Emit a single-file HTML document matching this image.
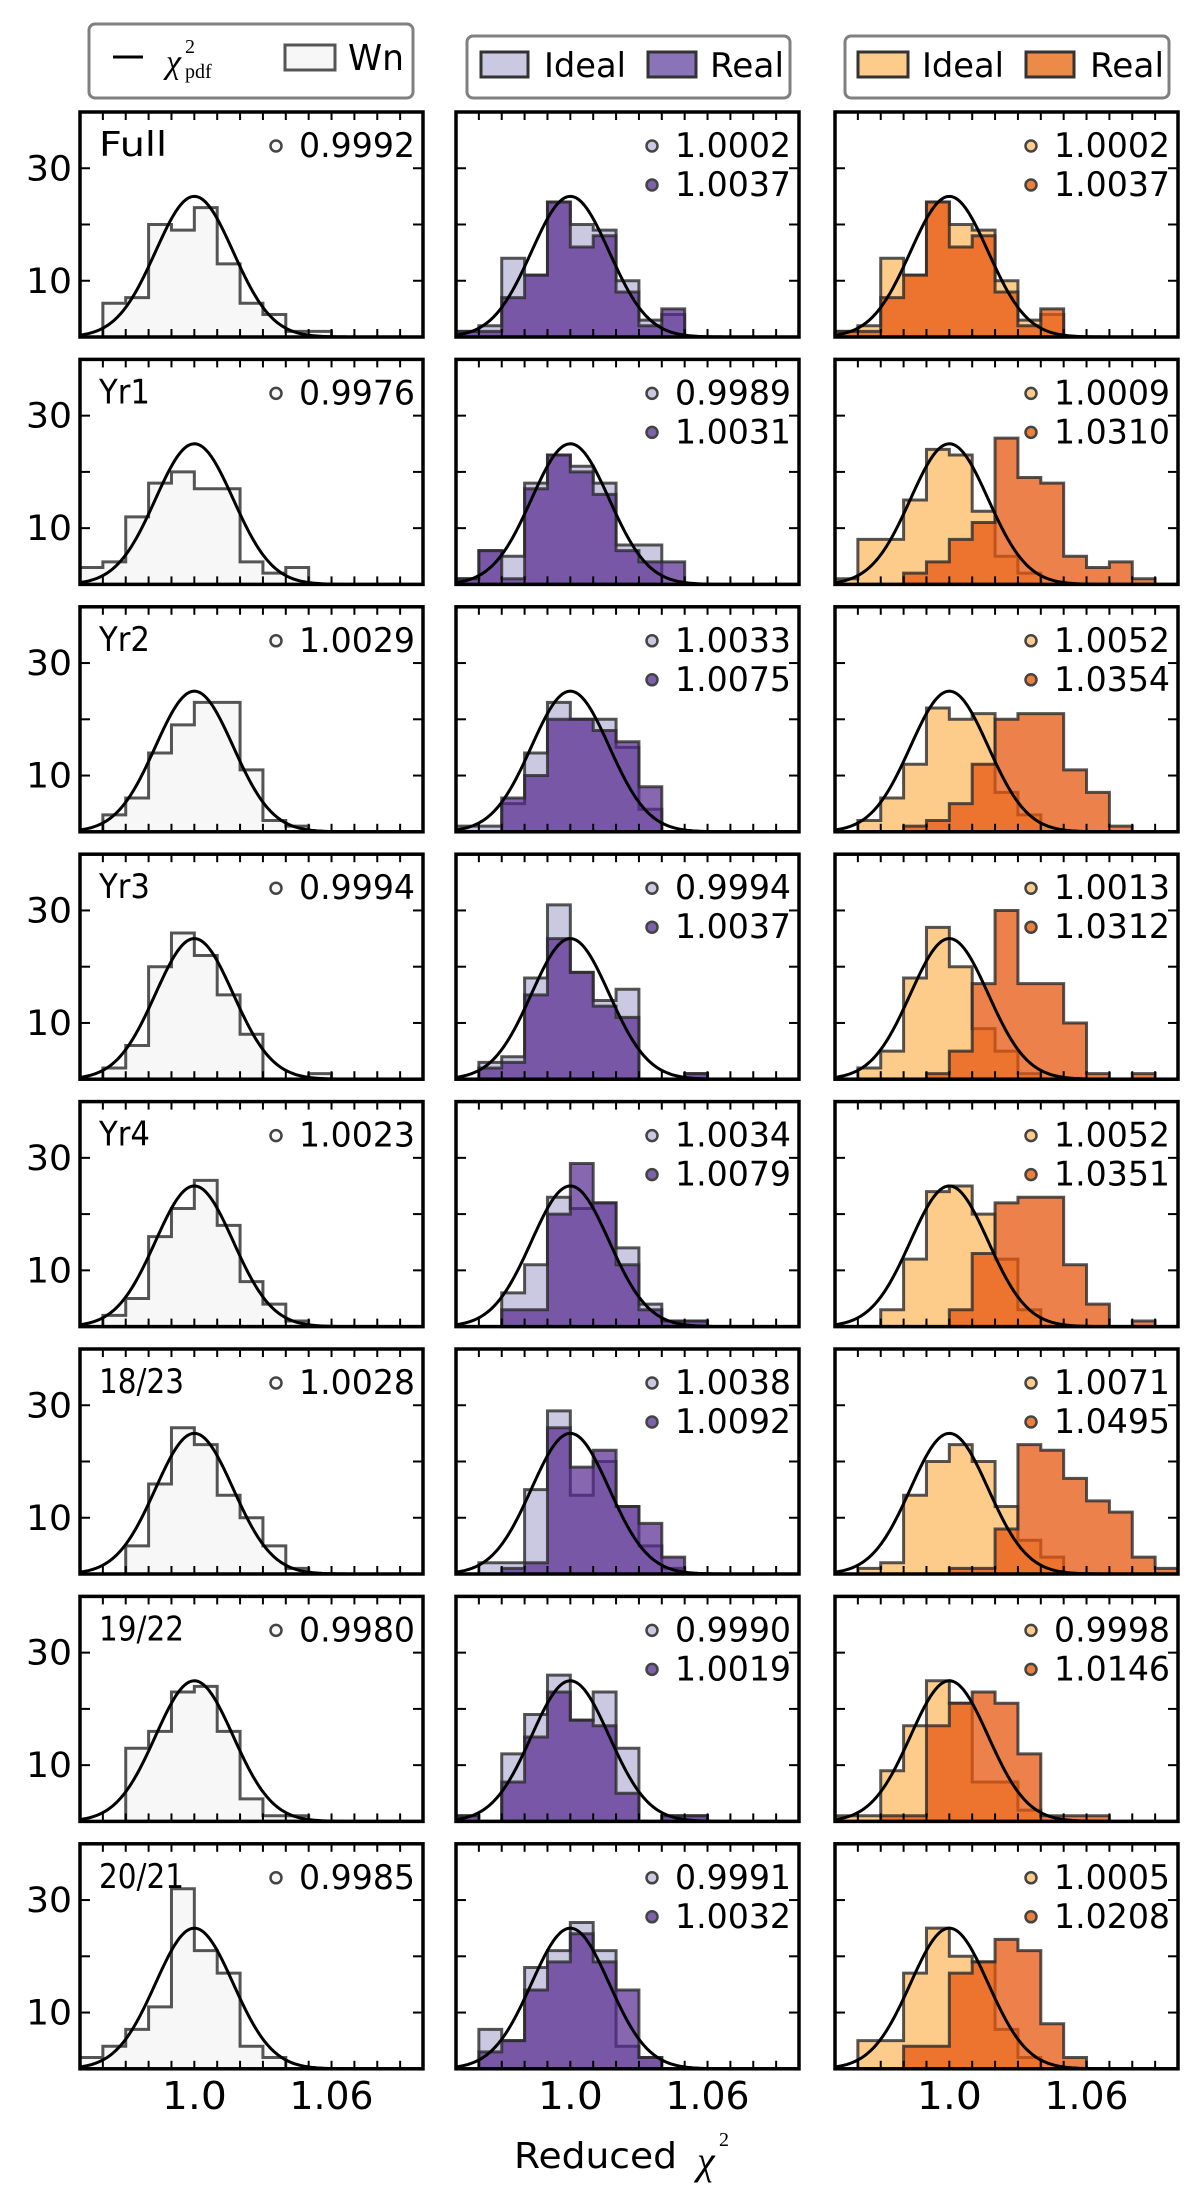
<!DOCTYPE html>
<html><head><meta charset="utf-8"><style>
html,body{margin:0;padding:0;background:#fff;}
svg{display:block;}
text{font-family:"DejaVu Sans","Liberation Sans",sans-serif;fill:#000;}
</style></head><body>
<svg id="fig" width="1200" height="2204" viewBox="0 0 1200 2204" xmlns="http://www.w3.org/2000/svg">
<g>
<rect x="89" y="24" width="324" height="74" rx="6" fill="#fff" stroke="#808080" stroke-width="3"/>
<line x1="113" y1="57" x2="143" y2="57" stroke="#000" stroke-width="3"/>
<text x="166" y="73" style="font-family:'Liberation Serif',serif;font-style:italic;font-size:34px">χ</text>
<text x="185" y="53" style="font-family:'Liberation Serif',serif;font-size:20px">2</text>
<text x="185" y="78" style="font-family:'Liberation Serif',serif;font-size:20px">pdf</text>
<rect x="285" y="45" width="50" height="25" fill="#f7f7f7" stroke="#555" stroke-width="3"/>
<text x="348" y="70" font-size="36" textLength="56" lengthAdjust="spacingAndGlyphs">Wn</text>
</g>
<g>
<rect x="467" y="36" width="323" height="62" rx="6" fill="#fff" stroke="#808080" stroke-width="3"/>
<rect x="481" y="52" width="47" height="25" fill="#cbc9e2" stroke="#333" stroke-width="3"/>
<text x="544" y="77" font-size="34" textLength="82" lengthAdjust="spacingAndGlyphs">Ideal</text>
<rect x="648" y="52" width="48" height="25" fill="#8a73b8" stroke="#333" stroke-width="3"/>
<text x="710" y="77" font-size="34" textLength="74" lengthAdjust="spacingAndGlyphs">Real</text>
</g>
<g>
<rect x="845" y="36" width="324" height="62" rx="6" fill="#fff" stroke="#808080" stroke-width="3"/>
<rect x="858" y="52" width="50" height="25" fill="#fdcc8a" stroke="#333" stroke-width="3"/>
<text x="922" y="77" font-size="34" textLength="82" lengthAdjust="spacingAndGlyphs">Ideal</text>
<rect x="1026" y="52" width="48" height="25" fill="#ec8a48" stroke="#333" stroke-width="3"/>
<text x="1090" y="77" font-size="34" textLength="74" lengthAdjust="spacingAndGlyphs">Real</text>
</g>
<g id="panels"></g>
<text x="514" y="2168" font-size="36" textLength="163" lengthAdjust="spacingAndGlyphs">Reduced</text>
<text x="697" y="2174" style="font-family:'Liberation Serif',serif;font-style:italic;font-size:40px">χ</text>
<text x="719" y="2146" style="font-family:'Liberation Serif',serif;font-size:20px">2</text>
</svg>
<script>
const rowLabels = ["Full","Yr1","Yr2","Yr3","Yr4","18/23","19/22","20/21"];
const wnMeans = ["0.9992","0.9976","1.0029","0.9994","1.0023","1.0028","0.9980","0.9985"];
const purpleIdealMeans = ["1.0002","0.9989","1.0033","0.9994","1.0034","1.0038","0.9990","0.9991"];
const purpleRealMeans = ["1.0037","1.0031","1.0075","1.0037","1.0079","1.0092","1.0019","1.0032"];
const orangeIdealMeans = ["1.0002","1.0009","1.0052","1.0013","1.0052","1.0071","0.9998","1.0005"];
const orangeRealMeans = ["1.0037","1.0310","1.0354","1.0312","1.0351","1.0495","1.0146","1.0208"];
const binStart = 0.95;
const binWidth = 0.01;
const xTickValues = [1.0, 1.06];
const xTickLabels = ["1.0", "1.06"];
const yTickValues = [10, 30];
const yTickLabels = ["10", "30"];
const gaussPeak = 25;
const gaussSigma = 0.017;
const wnCounts = [
 [0,6,7,20,19,23,13,6,4,1,1,0,0,0,0],
 [3,4,12,18,20,17,17,4,2,3,0,0,0,0,0],
 [0,3,6,14,19,23,23,11,2,1,0,0,0,0,0],
 [0,2,6,20,26,22,15,8,0,0,1,0,0,0,0],
 [0,2,5,16,21,26,18,8,4,1,0,0,0,0,0],
 [0,0,5,16,26,23,14,10,5,1,0,0,0,0,0],
 [0,0,13,16,23,24,16,4,1,1,0,0,0,0,0],
 [2,4,7,11,32,21,17,4,2,0,0,0,0,0,0]
];
const purpleIdeal = [
 [1,2,14,11,24,20,19,10,3,4,0,0,0,0,0],
 [1,6,5,18,23,21,18,7,7,0,0,0,0,0,0],
 [1,1,5,14,23,20,20,15,4,0,0,0,0,0,0],
 [0,3,4,18,31,19,14,16,0,0,1,0,0,0,0],
 [0,0,6,11,23,21,22,14,4,1,1,0,0,0,0],
 [0,2,2,15,29,14,20,12,5,1,0,0,0,0,0],
 [1,0,12,19,26,18,23,13,0,1,1,0,0,0,0],
 [0,7,5,18,21,26,21,4,2,0,0,0,0,0,0]
];
const purpleReal = [
 [1,1,7,11,24,16,18,8,2,5,0,0,0,0,0],
 [1,6,1,17,23,20,16,6,4,4,0,0,0,0,0],
 [0,0,6,10,20,20,18,16,8,0,0,0,0,0,0],
 [0,2,3,15,25,19,13,11,0,0,1,0,0,0,0],
 [0,0,3,3,20,29,22,11,3,1,1,0,0,0,0],
 [0,0,1,2,26,19,22,12,9,3,0,0,0,0,0],
 [1,0,7,15,23,18,17,5,0,1,1,0,0,0,0],
 [0,3,5,14,19,24,19,14,2,0,0,0,0,0,0]
];
const orangeIdeal = [
 [1,2,14,11,24,20,19,10,3,4,0,0,0,0,0],
 [1,8,8,15,24,23,13,5,2,0,0,0,0,0,0],
 [0,2,6,12,22,20,21,7,3,0,0,0,0,0,0],
 [0,2,5,18,27,20,9,5,1,0,0,0,0,0,0],
 [0,0,3,12,24,25,20,12,3,0,0,0,0,0,0],
 [0,1,2,14,20,23,20,12,6,3,0,0,0,0,0],
 [1,1,9,17,25,21,7,7,2,0,0,0,0,0,0],
 [0,5,5,17,25,20,19,7,2,0,0,0,0,0,0]
];
const orangeReal = [
 [1,1,7,11,24,16,18,8,2,5,0,0,0,0,0],
 [0,0,0,2,4,8,11,26,19,18,5,3,4,1,0],
 [0,0,0,1,2,5,12,20,21,21,11,7,1,0,0],
 [0,0,0,0,1,5,17,30,17,17,10,1,0,1,0],
 [0,0,0,0,0,3,13,22,23,23,11,4,0,1,0],
 [0,0,0,0,0,1,1,8,23,22,17,13,11,3,1],
 [0,0,1,1,17,21,23,21,12,1,1,1,0,0,0],
 [0,0,0,4,4,17,19,23,21,8,2,0,0,0,0]
];

const NS = "http://www.w3.org/2000/svg";
const colX = [80, 456, 835];
const PW = 343, PH = 225, ROW0 = 112, ROWP = 247.4;
const YMAX = 40, NB = 15;
const root = document.getElementById('panels');
function mk(tag, attrs, parent){
  const e = document.createElementNS(NS, tag);
  for (const k in attrs) e.setAttribute(k, attrs[k]);
  parent.appendChild(e);
  return e;
}
function xs(v, x0){ return x0 + (v - binStart) / (binWidth * NB) * PW; }
function ys(v, y0){ return y0 + PH - v / YMAX * PH; }
function histPath(counts, x0, y0){
  let first = counts.findIndex(c => c > 0);
  let last = counts.length - 1; while (last >= 0 && counts[last] <= 0) last--;
  if (first < 0) return "";
  let d = "M" + xs(binStart + first*binWidth, x0) + "," + ys(0, y0);
  for (let i = first; i <= last; i++){
    const xa = xs(binStart + i*binWidth, x0), xb = xs(binStart + (i+1)*binWidth, x0);
    const y = ys(counts[i], y0);
    d += " L" + xa + "," + y + " L" + xb + "," + y;
  }
  d += " L" + xs(binStart + (last+1)*binWidth, x0) + "," + ys(0, y0) + " Z";
  return d;
}
function drawHist(g, counts, x0, y0, fill, op, name){
  const p = mk('path', {d: histPath(counts, x0, y0), fill: fill, 'fill-opacity': op, stroke: '#2a2a2a', 'stroke-opacity': 0.8, 'stroke-width': 3, 'stroke-linejoin': 'miter'}, g);
  
  
}
function gaussPath(x0, y0){
  let d = "";
  for (let i = 0; i <= 200; i++){
    const v = binStart + binWidth*NB*i/200;
    const c = gaussPeak * Math.exp(-Math.pow(v - 1, 2) / (2*gaussSigma*gaussSigma));
    d += (i ? " L" : "M") + xs(v, x0).toFixed(2) + "," + ys(c, y0).toFixed(2);
  }
  return d;
}
function addText(g, x, y, str, size, anchor, len, name){
  const t = mk('text', {x: x, y: y, 'font-size': size, 'text-anchor': anchor}, g);
  if (len) { t.setAttribute('textLength', len); t.setAttribute('lengthAdjust', 'spacingAndGlyphs'); }
  t.textContent = str;
  
  
  return t;
}
function marker(g, cx, cy, fill, name){
  const c = mk('circle', {cx: cx, cy: cy, r: 5.5, fill: fill, stroke: '#444', 'stroke-width': 2.5}, g);
  
  
}
for (let r = 0; r < rowLabels.length; r++){
  const y0 = ROW0 + r*ROWP;
  for (let c = 0; c < 3; c++){
    const x0 = colX[c];
    const g = mk('g', {}, root);
    
    
    if (c === 0) drawHist(g, wnCounts[r], x0, y0, '#f7f7f7', 1, 'wn-histogram');
    if (c === 1){ drawHist(g, purpleIdeal[r], x0, y0, '#cbc9e2', 1, 'ideal-histogram'); drawHist(g, purpleReal[r], x0, y0, '#54278f', 0.7, 'real-histogram'); }
    if (c === 2){ drawHist(g, orangeIdeal[r], x0, y0, '#fdcc8a', 1, 'ideal-histogram'); drawHist(g, orangeReal[r], x0, y0, '#e6550d', 0.74, 'real-histogram'); }
    const gp = mk('path', {d: gaussPath(x0, y0), fill: 'none', stroke: '#000', 'stroke-width': 3}, g);
    
    
    for (let k = 1; k < NB; k++){
      const tx = xs(binStart + k*binWidth, x0);
      mk('line', {x1: tx, y1: y0+PH, x2: tx, y2: y0+PH-8, stroke: '#000', 'stroke-width': 2}, g);
      mk('line', {x1: tx, y1: y0, x2: tx, y2: y0+8, stroke: '#000', 'stroke-width': 2}, g);
    }
    for (let k = 10; k < YMAX; k += 10){
      const ty = ys(k, y0);
      mk('line', {x1: x0, y1: ty, x2: x0+10, y2: ty, stroke: '#000', 'stroke-width': 2}, g);
      mk('line', {x1: x0+PW, y1: ty, x2: x0+PW-10, y2: ty, stroke: '#000', 'stroke-width': 2}, g);
    }
    const fr = mk('rect', {x: x0, y: y0, width: PW, height: PH, fill: 'none', stroke: '#000', 'stroke-width': 3.5}, g);
    
    
    const R = x0 + PW;
    if (c === 0){
      addText(g, x0+19, y0+44, rowLabels[r], 34, 'start', rowLabels[r].length*17, 'row-label');
      marker(g, R-147, y0+34, '#f7f7f7', 'wn-marker');
      addText(g, R-8, y0+45, wnMeans[r], 34, 'end', 116, 'wn-mean');
      for (let i = 0; i < yTickValues.length; i++){
        addText(g, 72, ys(yTickValues[i], y0)+12, yTickLabels[i], 35, 'end', 46, 'y-tick-label');
      }
    } else {
      const im = c === 1 ? purpleIdealMeans : orangeIdealMeans;
      const rm = c === 1 ? purpleRealMeans : orangeRealMeans;
      marker(g, R-147, y0+34, c === 1 ? '#cbc9e2' : '#fdcc8a', 'ideal-marker');
      addText(g, R-8, y0+45, im[r], 34, 'end', 116, 'ideal-mean');
      marker(g, R-147, y0+73, c === 1 ? '#7b62ab' : '#ec7f3a', 'real-marker');
      addText(g, R-8, y0+84, rm[r], 34, 'end', 116, 'real-mean');
    }
    if (r === rowLabels.length - 1){
      for (let i = 0; i < xTickValues.length; i++){
        addText(g, xs(xTickValues[i], x0), y0+PH+40, xTickLabels[i], 38, 'middle', xTickLabels[i].length*19 + 8, 'x-tick-label');
      }
    }
  }
}
</script>
</body></html>
